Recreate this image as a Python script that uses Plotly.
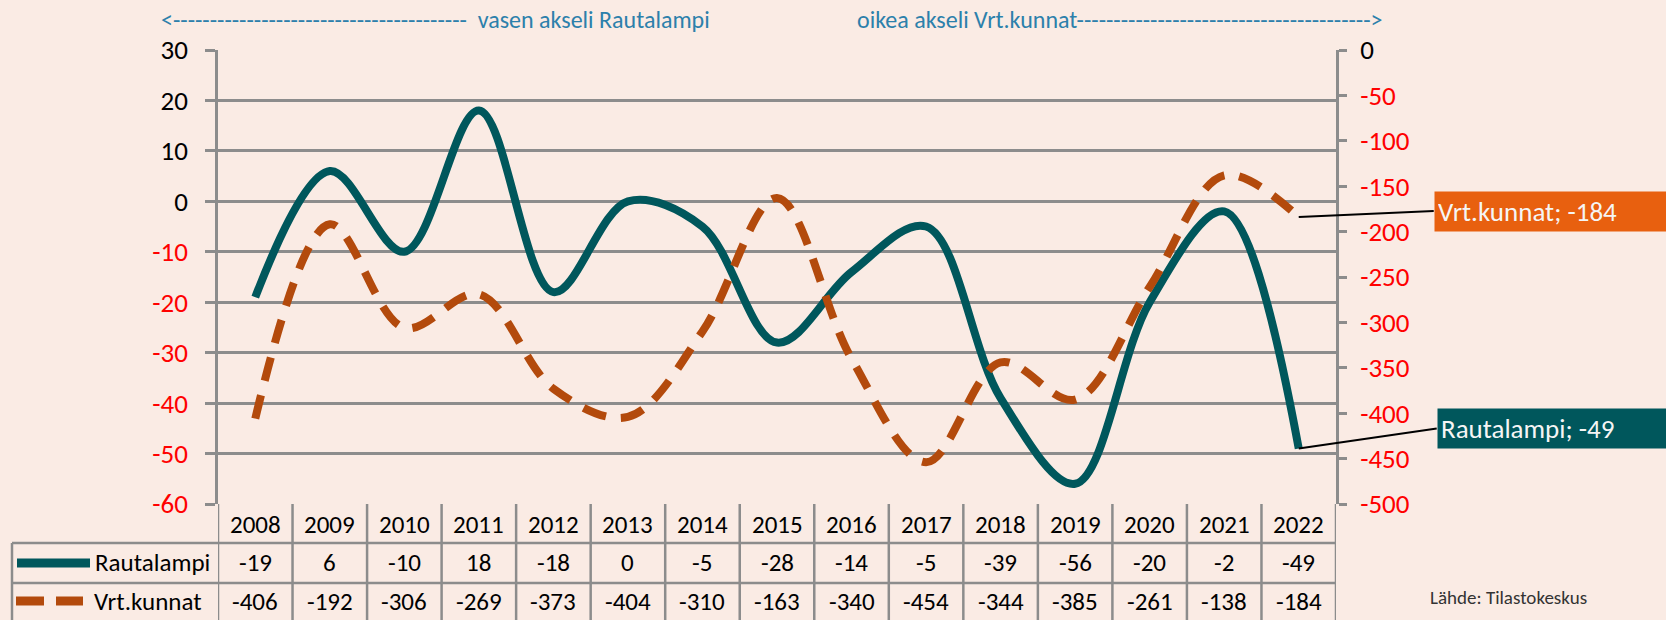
import plotly.graph_objects as go

# ---------------- data ----------------
years = [2008, 2009, 2010, 2011, 2012, 2013, 2014, 2015, 2016, 2017, 2018, 2019, 2020, 2021, 2022]
rautalampi = [-19, 6, -10, 18, -18, 0, -5, -28, -14, -5, -39, -56, -20, -2, -49]
vrt_kunnat = [-406, -192, -306, -269, -373, -404, -310, -163, -340, -454, -344, -385, -261, -138, -184]
left_ticks = [30, 20, 10, 0, -10, -20, -30, -40, -50, -60]
right_ticks = [0, -50, -100, -150, -200, -250, -300, -350, -400, -450, -500]

# ---------------- style ----------------
W, H = 1666, 620
L, R, T, B = 218, 1336, 50, 504
BG = "#FAEBE4"
TEAL = "#00575C"
ORANGE = "#B34A0C"
BOX_ORANGE = "#E8600F"
GRID = "#8C8C8C"
HEAD = "#2C80AB"
FONT = "Carlito, Lato, sans-serif"
TS = 25   # table font size
AS = 27   # axis font size


def px_x(x):
    return (x - L) / (R - L)


def px_y(y):
    return (B - y) / (B - T)


def tick_text(v):
    col = "#FF0000" if v < 0 else "#000000"
    return f"<span style='color:{col}'>{v}</span>"


fig = go.Figure()
fig.add_trace(go.Scatter(
    x=years, y=rautalampi, name="Rautalampi", mode="lines",
    line=dict(color=TEAL, width=8, shape="spline", smoothing=1.0),
    yaxis="y"))
fig.add_trace(go.Scatter(
    x=years, y=vrt_kunnat, name="Vrt.kunnat", mode="lines",
    line=dict(color=ORANGE, width=8, shape="spline", smoothing=1.0, dash="24px,15px"),
    yaxis="y2"))

annotations = []
shapes = []

# header texts
annotations.append(dict(
    x=px_x(712), y=px_y(20), xref="paper", yref="paper", xanchor="right", yanchor="middle",
    text="<" + "-" * 40 + "  vasen akseli Rautalampi", showarrow=False,
    font=dict(family=FONT, size=24, color=HEAD)))
annotations.append(dict(
    x=px_x(855), y=px_y(20), xref="paper", yref="paper", xanchor="left", yanchor="middle",
    text="oikea akseli Vrt.kunnat" + "-" * 40 + ">", showarrow=False,
    font=dict(family=FONT, size=24, color=HEAD)))

# table texts
row_y = [524, 562, 601]
for i, yr in enumerate(years):
    annotations.append(dict(x=yr, xref="x", y=px_y(row_y[0]), yref="paper", text=str(yr),
                            showarrow=False, yanchor="middle",
                            font=dict(family=FONT, size=TS, color="#000000")))
    annotations.append(dict(x=yr, xref="x", y=px_y(row_y[1]), yref="paper", text=str(rautalampi[i]),
                            showarrow=False, yanchor="middle",
                            font=dict(family=FONT, size=TS, color="#000000")))
    annotations.append(dict(x=yr, xref="x", y=px_y(row_y[2]), yref="paper", text=str(vrt_kunnat[i]),
                            showarrow=False, yanchor="middle",
                            font=dict(family=FONT, size=TS, color="#000000")))

annotations.append(dict(x=px_x(93), y=px_y(row_y[1]), xref="paper", yref="paper", xanchor="left",
                        yanchor="middle", text="Rautalampi", showarrow=False,
                        font=dict(family=FONT, size=TS, color="#000000")))
annotations.append(dict(x=px_x(92), y=px_y(row_y[2]), xref="paper", yref="paper", xanchor="left",
                        yanchor="middle", text="Vrt.kunnat", showarrow=False,
                        font=dict(family=FONT, size=TS, color="#000000")))

# source
annotations.append(dict(x=px_x(1428), y=px_y(597), xref="paper", yref="paper", xanchor="left",
                        yanchor="middle", text="Lähde: Tilastokeskus", showarrow=False,
                        font=dict(family=FONT, size=19, color="#333333")))

# callouts
annotations.append(dict(
    x=years[-1], y=vrt_kunnat[-1], xref="x", yref="y2",
    text="Vrt.kunnat; -184", showarrow=True, arrowhead=0, arrowwidth=2, arrowcolor="#000000",
    ax=135, ay=-6, xanchor="left", yanchor="middle", align="left", width=250,
    bgcolor=BOX_ORANGE, borderpad=3, font=dict(family=FONT, size=27, color="#F5F5F5")))
annotations.append(dict(
    x=years[-1], y=rautalampi[-1], xref="x", yref="y",
    text="Rautalampi; -49", showarrow=True, arrowhead=0, arrowwidth=2, arrowcolor="#000000",
    ax=138, ay=-20, xanchor="left", yanchor="middle", align="left", width=250,
    bgcolor=TEAL, borderpad=3, font=dict(family=FONT, size=27, color="#F5F5F5")))

# table grid lines
bottom = px_y(622)
for k in range(len(years) + 1):
    xb = years[0] - 0.5 + k
    shapes.append(dict(type="line", xref="x", yref="paper", x0=xb, x1=xb, y0=0, y1=bottom,
                       line=dict(color=GRID, width=2.5)))
for yy in [543, 583]:
    shapes.append(dict(type="line", xref="paper", yref="paper", x0=px_x(12), x1=1, y0=px_y(yy), y1=px_y(yy),
                       line=dict(color=GRID, width=2.5)))
shapes.append(dict(type="line", xref="paper", yref="paper", x0=px_x(12), x1=px_x(12),
                   y0=px_y(543), y1=bottom, line=dict(color=GRID, width=2.5)))

# legend keys in table
shapes.append(dict(type="line", xref="paper", yref="paper", x0=px_x(17), x1=px_x(90),
                   y0=px_y(563), y1=px_y(563), line=dict(color=TEAL, width=9)))
for a, b in [(16, 44), (56, 83)]:
    shapes.append(dict(type="line", xref="paper", yref="paper", x0=px_x(a), x1=px_x(b),
                       y0=px_y(601), y1=px_y(601), line=dict(color=ORANGE, width=9)))

fig.update_layout(
    width=W, height=H,
    margin=dict(l=L, r=W - R, t=T, b=H - B, pad=0),
    paper_bgcolor=BG, plot_bgcolor=BG,
    showlegend=False,
    font=dict(family=FONT, color="#000000"),
    xaxis=dict(range=[years[0] - 0.5, years[-1] + 0.5], showgrid=False, zeroline=False,
               showticklabels=False, ticks="", showline=False, fixedrange=True),
    yaxis=dict(range=[-60, 30], tickvals=left_ticks, ticktext=[tick_text(v) for v in left_ticks],
               showgrid=True, gridcolor=GRID, gridwidth=2.5, zeroline=False,
               showline=True, linecolor=GRID, linewidth=2.5,
               ticks="outside", ticklen=10, tickcolor=GRID, tickwidth=2.5,
               ticklabelstandoff=12,
               tickfont=dict(family=FONT, size=AS)),
    yaxis2=dict(range=[-500, 0], tickvals=right_ticks, ticktext=[tick_text(v) for v in right_ticks],
                overlaying="y", side="right", showgrid=False, zeroline=False,
                showline=True, linecolor=GRID, linewidth=2.5,
                ticks="outside", ticklen=8, tickcolor=GRID, tickwidth=2.5,
                ticklabelstandoff=8,
                tickfont=dict(family=FONT, size=AS)),
    annotations=annotations,
    shapes=shapes,
)

fig.write_html(
    "out.html",
    config={"displayModeBar": False},
    post_script="document.body.style.margin='0';document.body.style.background='%s';" % BG,
)
